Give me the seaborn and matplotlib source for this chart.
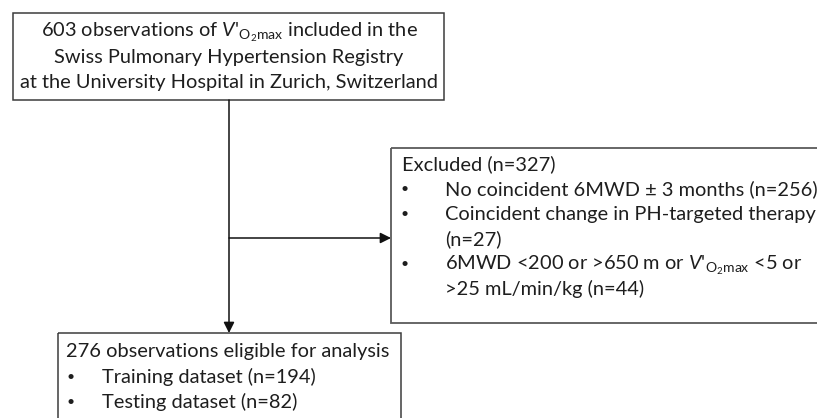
import matplotlib
matplotlib.use("Agg")
import matplotlib.pyplot as plt
import seaborn as sns
from matplotlib.patches import Rectangle

# counts shown in the flow chart
total_obs = 603
excluded_total = 327
excluded_reasons = [
    ["No coincident 6MWD ± 3 months (n={})"],
    ["Coincident change in PH-targeted therapy", "(n={})"],
    ["6MWD <200 or >650 m or $\\mathit{V}\\text{'}_{\\mathrm{O}_2\\mathrm{max}}$ <5 or", ">25 mL/min/kg (n={})"],
]
excluded_counts = [256, 27, 44]
eligible_total = 276
split_names = ["Training dataset", "Testing dataset"]
split_counts = [194, 82]

vo2 = "$\\mathit{V}\\text{'}_{\\mathrm{O}_2\\mathrm{max}}$"
top_lines = [
    "{} observations of {} included in the".format(total_obs, vo2),
    "Swiss Pulmonary Hypertension Registry",
    "at the University Hospital in Zurich, Switzerland",
]

sns.set_theme(style="white")
plt.rcParams["font.family"] = ["Lato", "DejaVu Sans"]
plt.rcParams["mathtext.fontset"] = "custom"
plt.rcParams["mathtext.rm"] = "Lato"
plt.rcParams["mathtext.it"] = "Lato:italic"

fs = 14.4
bfs = 10
txt = "#1e1e1e"
edge = "#3c3c3c"

fig = plt.figure(figsize=(8.17, 4.18), dpi=100)
ax = fig.add_axes([0, 0, 1, 1])
ax.set_xlim(0, 817)
ax.set_ylim(418, 0)
ax.axis("off")

# boxes
ax.add_patch(Rectangle((13, 13), 431, 87, fill=False, ec=edge, lw=1.1))
ax.add_patch(Rectangle((391, 148), 440, 175, fill=False, ec="#5a5a5a", lw=1.3))
ax.add_patch(Rectangle((58, 333), 343, 90, fill=False, ec=edge, lw=1.1))

# top box text
for i, line in enumerate(top_lines):
    ax.text(229, 37 + i * 25.5, line, ha="center", va="baseline", fontsize=fs, color=txt)

# excluded box
y = 170
ax.text(402, y, "Excluded (n={})".format(excluded_total), va="baseline", fontsize=fs, color=txt)
for lines, n in zip(excluded_reasons, excluded_counts):
    y += 25
    ax.text(401, y - 2, "•", va="baseline", fontsize=bfs, color=txt)
    for j, line in enumerate(lines):
        if j > 0:
            y += 25
        s = line.format(n) if "{}" in line else line
        ax.text(445, y, s, va="baseline", fontsize=fs, color=txt)

# eligible box
ax.text(66, 357, "{} observations eligible for analysis".format(eligible_total),
        va="baseline", fontsize=fs, color=txt)
for k, (name, n) in enumerate(zip(split_names, split_counts)):
    yy = 383 + k * 25
    ax.text(67, yy - 2, "•", va="baseline", fontsize=bfs, color=txt)
    ax.text(102, yy, "{} (n={})".format(name, n), va="baseline", fontsize=fs, color=txt)

# arrows
arrow = dict(arrowstyle="-|>", color="#111111", lw=1.1, mutation_scale=16,
             shrinkA=0, shrinkB=0)
ax.annotate("", xy=(229, 333), xytext=(229, 100), arrowprops=arrow)
ax.annotate("", xy=(391, 238), xytext=(229, 238), arrowprops=arrow)

fig.savefig("out.png", dpi=100)
